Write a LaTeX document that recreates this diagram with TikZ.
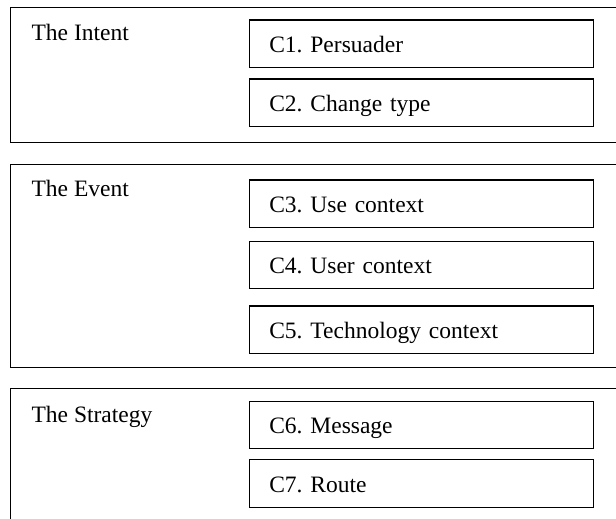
\documentclass[tikz,border=0pt]{standalone}
\usepackage{fontspec}
\setmainfont{Liberation Serif}
\frenchspacing
\begin{document}
\begin{tikzpicture}[x=1pt,y=-1pt,
  panel/.style={draw=black,line width=1.3pt},
  inbox/.style={draw=black,line width=1.4pt,anchor=north west,
    minimum height=47.5pt,inner xsep=19.6pt,inner ysep=0pt,
    text width=304.8pt,align=left,text height=18pt,text depth=0pt,
    font=\fontsize{23.5}{26}\selectfont\frenchspacing},
  ttl/.style={anchor=base west,inner sep=0pt,font=\fontsize{23.5}{26}\selectfont}]
\useasboundingbox (0,0) rectangle (616,519);
\clip (0,0) rectangle (616,519);
% panels
\draw[panel] (640,7.3) -- (10.3,7.3) -- (10.3,142.3) -- (640,142.3);
\draw[panel] (640,164.3) -- (10.3,164.3) -- (10.3,367.7) -- (640,367.7);
\draw[panel] (640,388.3) -- (10.3,388.3) -- (10.3,540);
% titles
\node[ttl] (intent) at (31.4,41) {The Intent};
\node[ttl] (event) at (31.4,196.7) {The Event};
\node[ttl] (strategy) at (31.4,422.3) {The Strategy};
% inner boxes
\node[inbox] (c1) at (249,19.3) {C1. Persuader};
\node[inbox] (c2) at (249,78.2) {C2. Change type};
\node[inbox] (c3) at (249,179.1) {C3. Use context};
\node[inbox] (c4) at (249,240.5) {C4. User context};
\node[inbox] (c5) at (249,305.2) {C5. Technology context};
\node[inbox] (c6) at (249,400.5) {C6. Message};
\node[inbox] (c7) at (249,459) {C7. Route};
\end{tikzpicture}
\end{document}
